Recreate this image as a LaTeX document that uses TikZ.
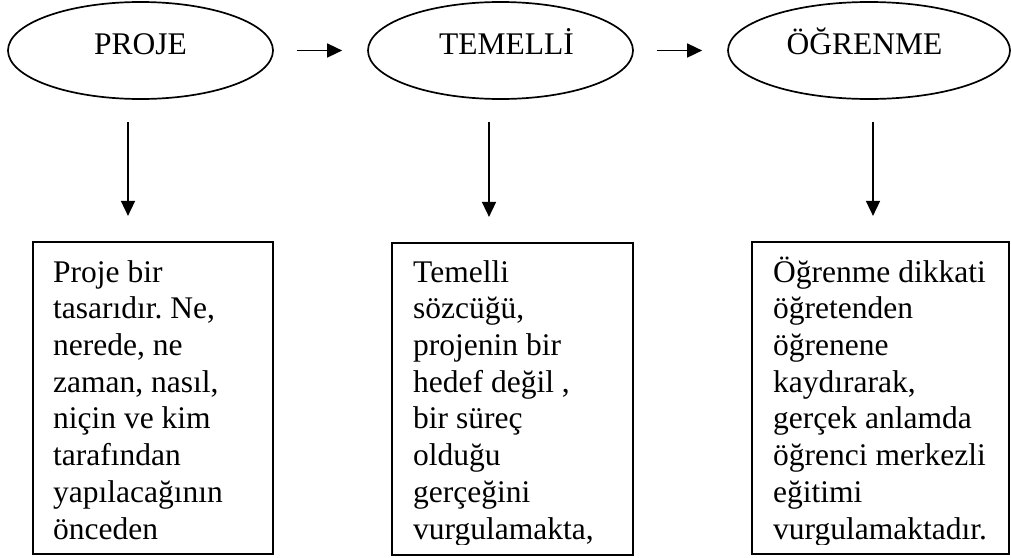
\documentclass[tikz,border=0pt]{standalone}
\usepackage{fontspec}
\setmainfont{Liberation Serif}
\usetikzlibrary{shapes.geometric,arrows.meta}
\frenchspacing
\begin{document}
\begin{tikzpicture}[x=1pt,y=-1pt,
  every node/.style={font=\fontsize{31.5}{36.7}\selectfont},
  oval/.style={ellipse,draw,line width=1.7pt,minimum height=97pt,inner sep=0pt,text height=21pt,text depth=14pt},
  txtbox/.style={rectangle,draw,line width=2.2pt,inner sep=0pt},
  body/.style={anchor=base west,align=left,inner sep=0pt},
  arr/.style={line width=1.6pt,-{Triangle[width=14pt,length=15pt]}}]
\useasboundingbox (0,0) rectangle (1011,557);
% top ellipses
\node[oval,minimum width=265pt] (e1) at (140.5,50.5) {PROJE};
\node[oval,minimum width=265pt] (e2) at (500.5,50.5) {\hspace*{12pt}TEMELLİ};
\node[oval,minimum width=282pt] (e3) at (869,50.5) {\hspace*{-9pt}ÖĞRENME};
% horizontal arrows
\draw[arr,shorten <=23pt,shorten >=25pt] (e1.east) -- (e2.west);
\draw[arr,shorten <=23pt,shorten >=25pt] (e2.east) -- (e3.west);
% boxes
\node[txtbox,minimum width=240pt,minimum height=312pt] (b1) at (153,398) {};
\node[txtbox,minimum width=241pt,minimum height=312pt] (b2) at (512.5,399) {};
\node[txtbox,minimum width=257pt,minimum height=312pt] (b3) at (880.5,398) {};
% vertical arrows
\coordinate (t1) at (128,122);
\coordinate (t2) at (489,122);
\coordinate (t3) at (873,122);
\draw[arr,shorten >=25pt] (t1) -- (t1 |- b1.north);
\draw[arr,shorten >=25pt] (t2) -- (t2 |- b2.north);
\draw[arr,shorten >=25pt] (t3) -- (t3 |- b3.north);
% box texts (clipped like the original); anchor base = last line's baseline
\begin{scope}
\clip (33,242) rectangle (1011,544);
\node[body] (x1) at (53,539) {Proje bir\\tasarıdır. Ne,\\nerede, ne\\zaman, nasıl,\\niçin ve kim\\tarafından\\yapılacağının\\önceden};
\node[body] (x2) at (413,539) {Temelli\\sözcüğü,\\projenin bir\\hedef değil ,\\bir süreç\\olduğu\\gerçeğini\\vurgulamakta,};
\node[body] (x3) at (773,539) {Öğrenme dikkati\\öğretenden\\öğrenene\\kaydırarak,\\gerçek anlamda\\öğrenci merkezli\\eğitimi\\vurgulamaktadır.};
\end{scope}
\end{tikzpicture}
\end{document}
